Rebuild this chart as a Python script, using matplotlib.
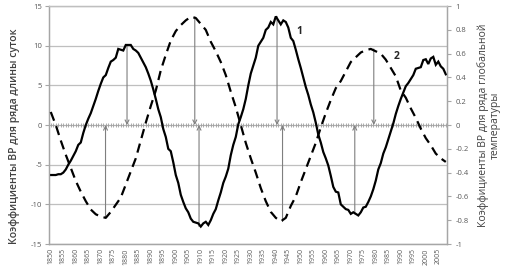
import matplotlib
matplotlib.use("Agg")
import matplotlib.pyplot as plt
import numpy as np

plt.rcParams['font.family'] = ['Open Sans', 'DejaVu Sans']

# Curve 1: length-of-day coefficients (left axis)
lod_years = list(range(1850, 2009))
lod_values = [
    -6.3, -6.3, -6.3, -6.2, -6.2, -6.0, -5.6, -5.0, -4.5, -3.9,
    -3.3, -2.5, -2.2, -1.0, 0.0, 0.8, 1.5, 2.4, 3.3, 4.3,
    5.2, 6.0, 6.3, 7.2, 8.0, 8.2, 8.5, 9.6, 9.5, 9.4,
    10.1, 10.1, 10.1, 9.6, 9.4, 9.1, 8.5, 7.9, 7.3, 6.5,
    5.6, 4.5, 3.3, 2.0, 1.0, -0.5, -1.5, -3.0, -3.3, -4.7,
    -6.3, -7.3, -8.8, -9.7, -10.5, -11.0, -11.8, -12.2, -12.3, -12.4,
    -12.8, -12.4, -12.2, -12.6, -12.0, -11.2, -10.6, -9.5, -8.5, -7.3,
    -6.5, -5.5, -3.8, -2.5, -1.5, 0.1, 1.0, 2.0, 3.3, 5.0,
    6.5, 7.5, 8.5, 10.0, 10.5, 11.0, 12.0, 12.3, 13.0, 12.7,
    13.7, 13.2, 12.7, 13.2, 13.0, 12.3, 11.0, 10.6, 9.5, 8.3,
    7.2, 6.0, 4.8, 3.8, 2.6, 1.6, 0.3, -1.2, -2.2, -3.4,
    -4.2, -5.1, -6.4, -7.8, -8.4, -8.5, -10.0, -10.3, -10.6, -10.7,
    -11.2, -11.0, -11.2, -11.4, -11.0, -10.4, -10.3, -9.7, -9.0, -8.1,
    -7.0, -5.6, -4.8, -3.6, -2.8, -1.8, -0.8, 0.2, 1.4, 2.4,
    3.3, 4.1, 4.9, 5.3, 5.8, 6.3, 7.1, 7.2, 7.3, 8.2,
    8.3, 7.7, 8.4, 8.6, 7.6, 8.0, 7.4, 7.1, 6.4,
]

# Curve 2: global temperature coefficients (right axis)
temp_years = list(range(1850, 2009, 2))
temp_values = [
    0.11, 0.00, -0.13, -0.25, -0.36, -0.47, -0.56, -0.64, -0.71, -0.75,
    -0.77, -0.78, -0.73, -0.67, -0.61, -0.50, -0.39, -0.28, -0.13, 0.02,
    0.16, 0.29, 0.46, 0.59, 0.71, 0.79, 0.84, 0.88, 0.91, 0.90,
    0.85, 0.80, 0.70, 0.62, 0.53, 0.42, 0.28, 0.15, 0.00, -0.15,
    -0.28, -0.40, -0.53, -0.64, -0.73, -0.78, -0.81, -0.78, -0.68, -0.60,
    -0.48, -0.37, -0.26, -0.15, -0.02, 0.10, 0.21, 0.31, 0.37, 0.45,
    0.53, 0.57, 0.61, 0.63, 0.64, 0.62, 0.60, 0.55, 0.48, 0.41,
    0.29, 0.23, 0.14, 0.06, -0.03, -0.11, -0.17, -0.24, -0.28, -0.31,
]

# Arrows: (year, start value) for each curve
lod_arrow_years = [1880.5, 1940.5, 1909.3, 1971.6]
lod_arrow_from = [10.1, 13.7, -12.8, -11.2]
temp_arrow_years = [1907.6, 1979.2, 1871.9, 1942.7]
temp_arrow_from = [0.91, 0.64, -0.78, -0.81]

x_tick_labels = [str(y) for y in range(1850, 2006, 5)]
left_ticks = [-15, -10, -5, 0, 5, 10, 15]
right_ticks = [-1, -0.8, -0.6, -0.4, -0.2, 0, 0.2, 0.4, 0.6, 0.8, 1]

fig = plt.figure(figsize=(5.08, 2.78), dpi=100)
ax = fig.add_axes([0.0965, 0.1223, 0.7835, 0.8557])
ax2 = ax.twinx()

grid_c = '#bfbfbf'
axis_c = '#a6a6a6'
text_c = '#595959'

ax.set_xlim(1849.3, 2008.5)
ax.set_ylim(-15, 15)
ax2.set_ylim(-1, 1)

for y in left_ticks:
    if y != 0:
        ax.axhline(y, color=grid_c, lw=0.9, zorder=0)

# zero axis line with per-year tick marks
ax.axhline(0, color='#b0b0b0', lw=0.9, zorder=1)
ax.plot(lod_years, [0] * len(lod_years), linestyle='none', marker='|',
        markersize=3, markeredgewidth=0.6, color='#a0a0a0', zorder=1)

ax.plot(lod_years, lod_values, color='black', lw=1.6, zorder=3,
        solid_joinstyle='miter')
ax2.plot(temp_years, temp_values, color='black', lw=1.6,
         linestyle=(0, (4.2, 2.6)), zorder=3)

arrow_kw = dict(arrowstyle='->', color='#7f7f7f', lw=0.8,
                shrinkA=0, shrinkB=0, mutation_scale=7)
for x, v in zip(lod_arrow_years, lod_arrow_from):
    ax.annotate('', xy=(x, 0), xytext=(x, v), arrowprops=arrow_kw, zorder=2)
for x, v in zip(temp_arrow_years, temp_arrow_from):
    ax2.annotate('', xy=(x, 0), xytext=(x, v), arrowprops=arrow_kw, zorder=2)

ax.text(1949.6, 11.8, '1', fontsize=7.5, fontweight='bold', color='#262626',
        ha='center', va='center')
ax.text(1988.3, 8.7, '2', fontsize=7.5, fontweight='bold', color='#262626',
        ha='center', va='center')

ax.set_xticks(list(range(1850, 2006, 5)))
ax.set_xticklabels(x_tick_labels, rotation=90, fontsize=5, color=text_c)
ax.tick_params(axis='x', length=0, pad=3)
ax.set_yticks(left_ticks)
ax.set_yticklabels([str(t) for t in left_ticks], fontsize=5.5, color=text_c)
ax.tick_params(axis='y', length=3, color=axis_c, pad=2)
ax2.set_yticks(right_ticks)
ax2.set_yticklabels([('%g' % t) for t in right_ticks], fontsize=5.5, color=text_c)
ax2.tick_params(axis='y', length=3, color=axis_c, pad=3)

for a in (ax, ax2):
    a.spines['top'].set_color(grid_c)
    a.spines['bottom'].set_color(axis_c)
    a.spines['left'].set_color(axis_c)
    a.spines['right'].set_color(axis_c)
    for s in a.spines.values():
        s.set_linewidth(0.9)

ax.set_ylabel('Коэффициенты ВР для ряда длины суток', fontsize=7.5,
              color='#404040', fontweight='semibold')
ax.yaxis.set_label_coords(-0.073, 0.455)
ax2.set_ylabel('Коэффициенты ВР для ряда глобальной\nтемпературы', fontsize=7.5,
               color='#404040', rotation=90, labelpad=6, linespacing=1.1)

fig.savefig('out.png', dpi=100)
